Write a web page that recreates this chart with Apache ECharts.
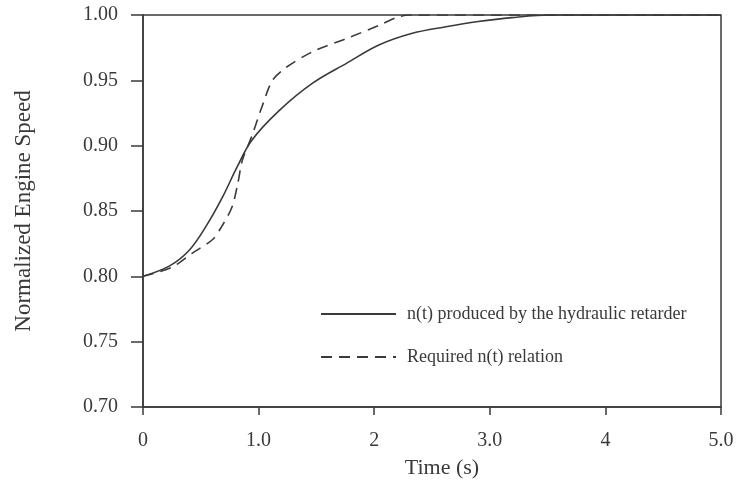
<!DOCTYPE html>
<html>
<head>
<meta charset="utf-8">
<script src="https://cdn.jsdelivr.net/npm/echarts@6/dist/echarts.min.js"></script>
<style>
  html, body { margin: 0; padding: 0; background: #fff; }
  #chart { width: 739px; height: 492px; }
</style>
</head>
<body>
<div id="chart"></div>
<script>
// values
var retarderTime = [0, 0.23, 0.40, 0.55, 0.69, 0.81, 0.94, 1.18, 1.47, 1.76, 2.04, 2.33, 2.62, 2.90, 3.19, 3.53, 4.0, 5.0];
var retarderSpeed = [0.800, 0.808, 0.820, 0.839, 0.861, 0.883, 0.904, 0.927, 0.948, 0.963, 0.977, 0.986, 0.991, 0.995, 0.998, 1.000, 1.000, 1.000];

var requiredTime = [0, 0.25, 0.43, 0.60, 0.68, 0.77, 0.82, 0.86, 0.94, 1.03, 1.12, 1.24, 1.47, 1.76, 2.04, 2.19, 2.30, 3.0, 4.0, 5.0];
var requiredSpeed = [0.800, 0.807, 0.818, 0.828, 0.838, 0.853, 0.871, 0.889, 0.907, 0.930, 0.950, 0.960, 0.972, 0.982, 0.992, 0.998, 1.000, 1.000, 1.000, 1.000];

var xTickLabels = ['0', '1.0', '2', '3.0', '4', '5.0'];
var seriesNames = ['n(t) produced by the hydraulic retarder', 'Required n(t) relation'];

function pairs(xs, ys) {
  var out = [];
  for (var i = 0; i < xs.length; i++) out.push([xs[i], ys[i]]);
  return out;
}

var ink = '#3a3a3a';
var serif = '"Liberation Serif", "DejaVu Serif", serif';

var chart = echarts.init(document.getElementById('chart'), null, { renderer: 'canvas' });
chart.setOption({
  animation: false,
  textStyle: { fontFamily: serif },
  grid: {
    left: 143, right: 18, top: 15, bottom: 85,
    show: true, borderColor: ink, borderWidth: 1.5
  },
  legend: {
    orient: 'vertical',
    left: 315,
    top: 300,
    itemWidth: 75,
    itemHeight: 14,
    itemGap: 25,
    data: seriesNames,
    itemStyle: { opacity: 0 },
    textStyle: { fontFamily: serif, fontSize: 18, color: ink, padding: [0, 0, 0, 6] }
  },
  xAxis: {
    type: 'value',
    min: 0, max: 5, interval: 1,
    name: 'Time (s)',
    nameLocation: 'middle',
    nameGap: 50,
    nameTextStyle: { fontFamily: serif, fontSize: 22, color: ink, padding: [0, 0, 0, 20] },
    axisLine: { lineStyle: { color: ink, width: 1.5 } },
    axisTick: { inside: false, length: 8, lineStyle: { color: ink, width: 1.5 } },
    axisLabel: {
      margin: 24, fontSize: 20, color: ink, fontFamily: serif,
      formatter: function (v) { return xTickLabels[Math.round(v)]; }
    },
    splitLine: { show: false }
  },
  yAxis: {
    type: 'value',
    min: 0.70, max: 1.00, interval: 0.05,
    name: 'Normalized Engine Speed',
    nameLocation: 'middle',
    nameGap: 108,
    nameTextStyle: { fontFamily: serif, fontSize: 23, color: ink },
    axisLine: { show: true, lineStyle: { color: ink, width: 1.5 } },
    axisTick: { show: true, inside: false, length: 12, lineStyle: { color: ink, width: 1.5 } },
    axisLabel: {
      margin: 25, fontSize: 20, color: ink, fontFamily: serif,
      formatter: function (v) { return v.toFixed(2); }
    },
    splitLine: { show: false }
  },
  series: [
    {
      name: seriesNames[0],
      type: 'line',
      data: pairs(retarderTime, retarderSpeed),
      showSymbol: false,
      symbol: 'none',
      smooth: 0.35,
      lineStyle: { color: ink, width: 1.6 },
      itemStyle: { color: ink }
    },
    {
      name: seriesNames[1],
      type: 'line',
      data: pairs(requiredTime, requiredSpeed),
      showSymbol: false,
      symbol: 'none',
      smooth: 0.3,
      lineStyle: { color: ink, width: 1.6, type: [11, 7] },
      itemStyle: { color: ink }
    }
  ]
});
window.addEventListener('resize', function () { chart.resize(); });
</script>
</body>
</html>
